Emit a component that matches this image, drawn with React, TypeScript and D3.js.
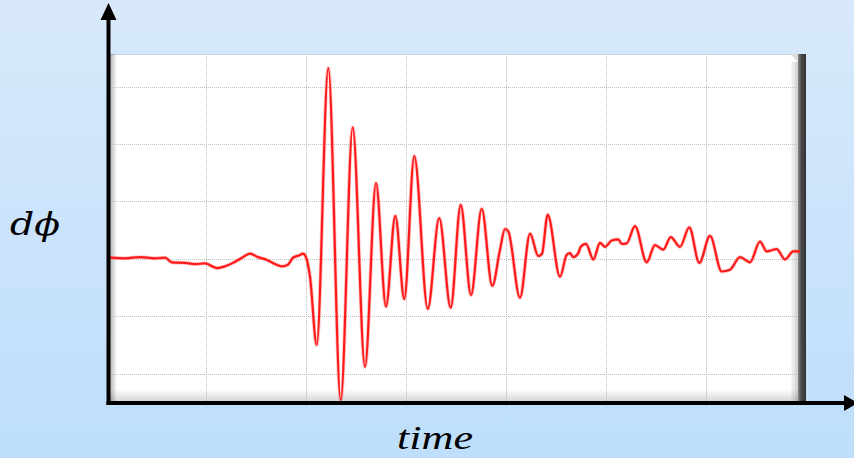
import React from "react";
import * as d3 from "d3";

const W = 854;
const H = 458;

// time (grid units) and signal amplitude (grid units)
const timeValues = [
  0.04, 0.19, 0.34, 0.49, 0.59, 0.66, 0.79, 0.89, 0.99, 1.11, 1.19, 1.27, 1.36, 1.44, 1.52,
  1.61, 1.69, 1.76, 1.82, 1.87, 1.93, 1.97, 2.0, 2.04, 2.107, 2.223, 2.347, 2.467, 2.59, 2.7,
  2.8, 2.893, 2.983, 3.083, 3.218, 3.332, 3.447, 3.547, 3.65, 3.757, 3.863, 3.94, 3.99, 4.023,
  4.14, 4.24, 4.323, 4.36, 4.417, 4.54, 4.607, 4.64, 4.673, 4.723, 4.747, 4.8, 4.873, 4.94,
  4.99, 5.057, 5.123, 5.157, 5.207, 5.29, 5.407, 5.49, 5.573, 5.647, 5.74, 5.833, 5.933, 6.04,
  6.157, 6.24, 6.34, 6.44, 6.54, 6.607, 6.707, 6.79, 6.873, 6.947,
];
const signalValues = [
  0.02, 0.01, 0.03, 0.01, 0.02, -0.06, -0.07, -0.09, -0.08, -0.16, -0.13, -0.07, 0.02, 0.09, 0.03,
  -0.02, -0.09, -0.13, -0.1, 0.02, 0.06, 0.09, 0.03, -0.31, -1.5, 3.32, -2.46, 2.29, -1.88, 1.32,
  -0.83, 0.75, -0.7, 1.79, -0.87, 0.71, -0.85, 0.94, -0.63, 0.87, -0.47, 0.16, 0.52, 0.48,
  -0.68, 0.44, 0.05, 0.09, 0.77, -0.31, 0.07, 0.1, 0.03, 0.1, 0.21, 0.26, -0.01, 0.28,
  0.21, 0.32, 0.34, 0.26, 0.27, 0.57, -0.06, 0.24, 0.16, 0.38, 0.21, 0.55, -0.07, 0.4,
  -0.22, -0.19, 0.03, -0.06, 0.3, 0.13, 0.17, -0.01, 0.13, 0.13,
];
const xGridTicks = [1, 2, 3, 4, 5, 6];
const yGridTicks = [-2, -1, 0, 1, 2, 3];

const xLabel = "time";
const yLabel = "dϕ";

export default function App() {
  const plotL = 110;
  const plotR = 800;
  const plotT = 54;
  const plotB = 403;

  const x = d3.scaleLinear().domain([0, 7]).range([106, 806]);
  const y = d3.scaleLinear().domain([-2.51, 3.55]).range([403, 55]);

  const data = timeValues.map((t, i) => [t, signalValues[i]] as [number, number]);
  const line = d3
    .line<[number, number]>()
    .x((d) => x(d[0]))
    .y((d) => y(d[1]))
    .curve(d3.curveMonotoneX);

  return (
    <svg
      width={W}
      height={H}
      style={{ position: "absolute", left: 0, top: 0 }}
      xmlns="http://www.w3.org/2000/svg"
    >
      <defs>
        <linearGradient id="bg" x1="0" y1="0" x2="0" y2="1">
          <stop offset="0" stopColor="#d8e9fb" />
          <stop offset="1" stopColor="#bedefb" />
        </linearGradient>
        <linearGradient id="leftShade" x1="0" y1="0" x2="1" y2="0">
          <stop offset="0" stopColor="#000" stopOpacity="0.3" />
          <stop offset="1" stopColor="#000" stopOpacity="0" />
        </linearGradient>
        <linearGradient id="bottomShade" x1="0" y1="0" x2="0" y2="1">
          <stop offset="0" stopColor="#000" stopOpacity="0" />
          <stop offset="1" stopColor="#000" stopOpacity="0.18" />
        </linearGradient>
        <linearGradient id="rightInner" x1="0" y1="0" x2="1" y2="0">
          <stop offset="0" stopColor="#000" stopOpacity="0" />
          <stop offset="1" stopColor="#000" stopOpacity="0.25" />
        </linearGradient>
        <linearGradient id="rightBand" x1="0" y1="0" x2="1" y2="0">
          <stop offset="0" stopColor="#8a8a8a" />
          <stop offset="0.4" stopColor="#4a4a4a" />
          <stop offset="1" stopColor="#333" />
        </linearGradient>
        <clipPath id="plotClip">
          <rect x={plotL} y={plotT} width={plotR - plotL} height={plotB - plotT + 2} />
        </clipPath>
      </defs>

      <rect x={0} y={0} width={W} height={H} fill="url(#bg)" />

      {/* plot frame */}
      <rect x={plotL} y={plotT} width={plotR - plotL} height={plotB - plotT} fill="#fff" />
      <line x1={plotL} x2={plotR} y1={plotT + 0.5} y2={plotT + 0.5} stroke="#c8d4e0" strokeWidth={1} />
      <rect x={plotL} y={plotT} width={7} height={plotB - plotT} fill="url(#leftShade)" />
      <rect x={plotL} y={plotB - 14} width={plotR - plotL} height={14} fill="url(#bottomShade)" />
      <rect x={plotR - 10} y={plotT + 8} width={10} height={plotB - plotT - 8} fill="url(#rightInner)" />
      <polygon
        points={`${plotR - 2},${plotT} ${plotR + 6},${plotT} ${plotR + 6},${plotB + 2} ${plotR - 2},${plotB + 2} ${plotR - 2},${plotT + 8}`}
        fill="url(#rightBand)"
      />
      <polygon
        points={`${plotR - 10},${plotT} ${plotR - 2},${plotT} ${plotR - 2},${plotT + 8}`}
        fill="#ddd"
      />

      {/* grid */}
      {xGridTicks.map((t) => (
        <line
          key={"gx" + t}
          x1={Math.round(x(t)) + 0.5}
          x2={Math.round(x(t)) + 0.5}
          y1={plotT}
          y2={plotB + 5}
          stroke="#b8b8b8"
          strokeWidth={1}
          strokeDasharray="1,1"
        />
      ))}
      {yGridTicks.map((v) => (
        <line
          key={"gy" + v}
          x1={plotL}
          x2={plotR - 2}
          y1={Math.round(y(v)) + 0.5}
          y2={Math.round(y(v)) + 0.5}
          stroke="#c0c0c0"
          strokeWidth={1}
          strokeDasharray="1,1"
        />
      ))}

      {/* signal */}
      <g clipPath="url(#plotClip)">
        <path d={line(data) || ""} fill="none" stroke="#ff5050" strokeOpacity={0.35} strokeWidth={3.8} strokeLinejoin="round" />
        <path d={line(data) || ""} fill="none" stroke="#ff1a1a" strokeWidth={2.2} strokeLinejoin="round" />
      </g>

      {/* axes */}
      <line x1={108.5} x2={108.5} y1={405} y2={18} stroke="#000" strokeWidth={4} />
      <polygon points="100.5,20 116.5,20 108.5,3" fill="#000" />
      <line x1={106.5} x2={846} y1={403} y2={403} stroke="#000" strokeWidth={4} />
      <polygon points="844,395 844,411 858,403" fill="#000" />

      {/* labels */}
      <text
        x={10}
        y={235}
        fontFamily="'DejaVu Serif', 'Liberation Serif', serif"
        fontStyle="italic"
        fontSize={31}
        fill="#000"
        textLength={50}
        lengthAdjust="spacingAndGlyphs"
      >
        {yLabel}
      </text>
      <text
        x={397}
        y={449}
        fontFamily="'Liberation Serif', 'DejaVu Serif', serif"
        fontStyle="italic"
        fontSize={34}
        fill="#000"
        textLength={76}
        lengthAdjust="spacingAndGlyphs"
      >
        {xLabel}
      </text>
    </svg>
  );
}
